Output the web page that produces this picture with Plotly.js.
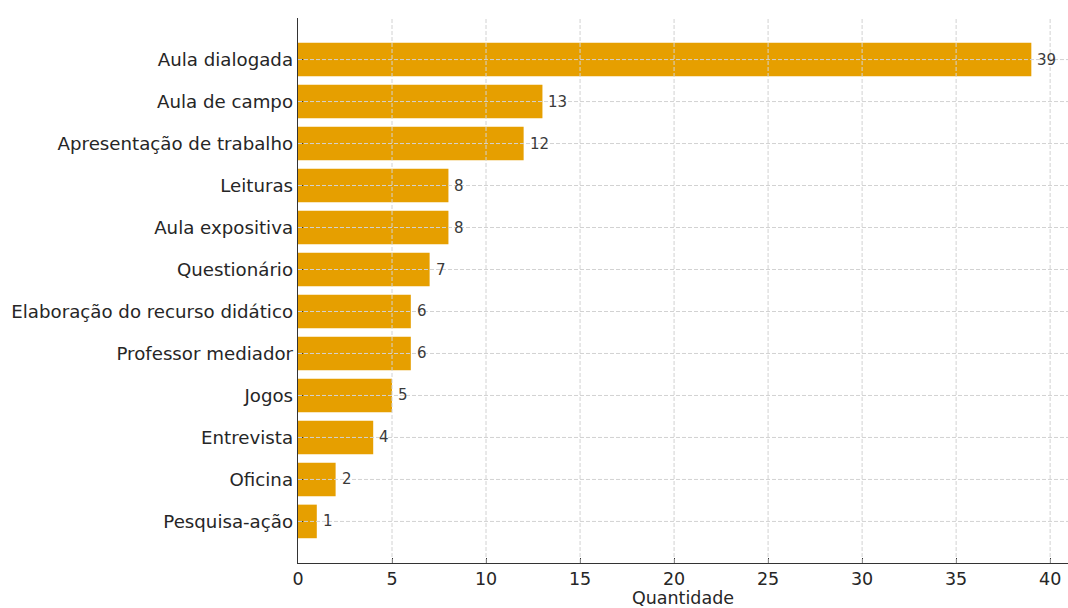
<!DOCTYPE html>
<html>
<head>
<meta charset="utf-8">
<script src="https://cdn.plot.ly/plotly-3.0.1.min.js"></script>
<style>html,body{margin:0;padding:0;background:#fff;}#chart{width:1068px;height:608px;}</style>
</head>
<body>
<div id="chart"></div>
<script>
// Data (bottom to top)
const categories = ["Pesquisa-ação","Oficina","Entrevista","Jogos","Professor mediador","Elaboração do recurso didático","Questionário","Aula expositiva","Leituras","Apresentação de trabalho","Aula de campo","Aula dialogada"];
const values = [1,2,4,5,6,6,7,8,8,12,13,39];
const xTicks = [0,5,10,15,20,25,30,35,40];

const gridColor = "#d2d2d2";
const shapes = [];
xTicks.filter(v => v > 0).forEach(v => shapes.push({type:"line", xref:"x", yref:"paper", x0:v, x1:v, y0:0, y1:1, layer:"above", line:{color:gridColor, width:1, dash:"4px,2px"}}));
categories.forEach(c => shapes.push({type:"line", xref:"paper", yref:"y", x0:0, x1:1, y0:c, y1:c, layer:"above", line:{color:gridColor, width:1, dash:"4px,2px"}}));

const annotations = categories.map((c, i) => ({
  x: values[i], y: c, xref:"x", yref:"y", text: String(values[i]),
  showarrow:false, xanchor:"left", yanchor:"middle", xshift:4,
  font:{family:"DejaVu Sans", size:15, color:"#3a3a3a"}
}));

const trace = {
  type:"bar", orientation:"h", y:categories, x:values,
  width:0.8,
  marker:{color:"#E69F00", line:{width:0}},
  hoverinfo:"x+y"
};

const layout = {
  width:1068, height:608,
  margin:{l:298, r:0, t:18, b:45, pad:0},
  paper_bgcolor:"#fff", plot_bgcolor:"#fff",
  font:{family:"DejaVu Sans", color:"#262626"},
  showlegend:false,
  shapes:shapes,
  annotations:annotations,
  xaxis:{
    range:[0,40.95], tickvals:xTicks, ticktext:xTicks.map(String),
    showgrid:false, zeroline:false,
    showline:true, linecolor:"#333333", linewidth:1.3,
    ticks:"inside", ticklen:5, tickcolor:"#333333",
    tickfont:{size:17.5, color:"#262626"},
    title:{text:"Quantidade", font:{size:17.5, color:"#262626"}, standoff:10}
  },
  yaxis:{
    type:"category", categoryorder:"array", categoryarray:categories,
    range:[-0.99, 11.99],
    showgrid:false, zeroline:false,
    showline:true, linecolor:"#333333", linewidth:1.3,
    ticks:"inside", ticklen:5, tickcolor:"#333333",
    tickfont:{size:18.2, color:"#262626"},
    ticklabelstandoff:0
  },
  bargap:0.2
};

Plotly.newPlot("chart", [trace], layout, {displayModeBar:false, staticPlot:true});
</script>
</body>
</html>
